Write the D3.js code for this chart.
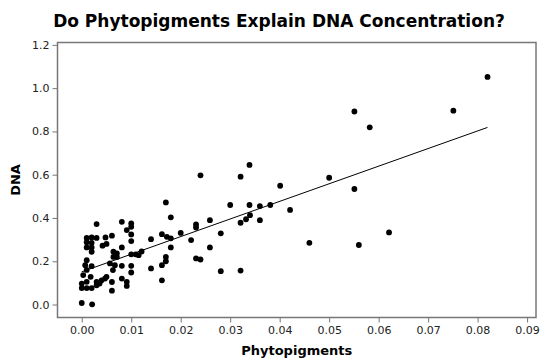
<!DOCTYPE html>
<html>
  <head>
    <script src="https://d3js.org/d3.v7.min.js"></script>
    <style>
      body { margin: 0; background: #fff; }
      text { font-family: "DejaVu Sans", Verdana, sans-serif; }
    </style>
  </head>
  <body>
    <div id="chart"></div>
    <script>
      // Phytopigments (x) and DNA (y)
      var phyto = [
        0.0000, 0.0021, 0.0000, 0.0000, 0.0010, 0.0020, 0.0010, 0.0018, 0.0010, 0.0003,
        0.0007, 0.0020, 0.0010, 0.0020, 0.0010, 0.0020, 0.0010, 0.0020, 0.0010, 0.0020,
        0.0030, 0.0030, 0.0030, 0.0036, 0.0040, 0.0047, 0.0030, 0.0042, 0.0050, 0.0061,
        0.0048, 0.0064, 0.0064, 0.0057, 0.0067, 0.0063, 0.0050, 0.0061, 0.0061, 0.0081,
        0.0091, 0.0091, 0.0081, 0.0100, 0.0100, 0.0091, 0.0100, 0.0100, 0.0081, 0.0071,
        0.0071, 0.0100, 0.0109, 0.0115, 0.0121, 0.0081, 0.0100, 0.0100, 0.0140, 0.0140,
        0.0162, 0.0172, 0.0180, 0.0162, 0.0170, 0.0170, 0.0180, 0.0162, 0.0170, 0.0180,
        0.0200, 0.0221, 0.0231, 0.0231, 0.0259, 0.0259, 0.0231, 0.0240, 0.0281, 0.0281,
        0.0321, 0.0240, 0.0321, 0.0339, 0.0300, 0.0339, 0.0321, 0.0332, 0.0340, 0.0360,
        0.0381, 0.0360, 0.0401, 0.0421, 0.0460, 0.0500, 0.0551, 0.0582, 0.0551, 0.0560,
        0.0621, 0.0751, 0.0820
      ];
      var dna = [
        0.007, 0.001, 0.097, 0.076, 0.076, 0.076, 0.105, 0.128, 0.160, 0.136,
        0.182, 0.177, 0.205, 0.244, 0.264, 0.264, 0.288, 0.285, 0.308, 0.310,
        0.308, 0.372, 0.089, 0.097, 0.112, 0.120, 0.105, 0.272, 0.280, 0.318,
        0.310, 0.244, 0.220, 0.190, 0.182, 0.159, 0.128, 0.104, 0.064, 0.120,
        0.105, 0.086, 0.382, 0.375, 0.359, 0.344, 0.324, 0.293, 0.264, 0.236,
        0.220, 0.232, 0.232, 0.228, 0.245, 0.179, 0.179, 0.148, 0.302, 0.167,
        0.325, 0.313, 0.306, 0.182, 0.200, 0.220, 0.264, 0.112, 0.472, 0.403,
        0.331, 0.298, 0.370, 0.356, 0.390, 0.264, 0.213, 0.208, 0.329, 0.154,
        0.157, 0.597, 0.591, 0.645, 0.460, 0.460, 0.378, 0.394, 0.413, 0.455,
        0.460, 0.390, 0.549, 0.437, 0.285, 0.586, 0.892, 0.819, 0.534, 0.275,
        0.333, 0.896, 1.052
      ];
      var xTicks = [0, 0.01, 0.02, 0.03, 0.04, 0.05, 0.06, 0.07, 0.08, 0.09];
      var yTicks = [0, 0.2, 0.4, 0.6, 0.8, 1.0, 1.2];

      var width = 542, height = 360;
      var plotL = 57.5, plotR = 536, plotT = 42.5, plotB = 317.5;

      var svg = d3.select("#chart").append("svg")
        .attr("width", width)
        .attr("height", height);

      var x = d3.scaleLinear().domain([-0.0049, 0.0918]).range([plotL, plotR]);
      var y = d3.scaleLinear().domain([-0.060, 1.211]).range([plotB, plotT]);

      // least squares fit
      var n = phyto.length;
      var mx = d3.mean(phyto), my = d3.mean(dna);
      var sxy = 0, sxx = 0;
      for (var i = 0; i < n; i++) {
        sxy += (phyto[i] - mx) * (dna[i] - my);
        sxx += (phyto[i] - mx) * (phyto[i] - mx);
      }
      var slope = sxy / sxx, icept = my - slope * mx;
      var x0 = d3.min(phyto), x1 = d3.max(phyto);

      svg.append("line")
        .attr("x1", x(x0)).attr("y1", y(icept + slope * x0))
        .attr("x2", x(x1)).attr("y2", y(icept + slope * x1))
        .attr("stroke", "#000")
        .attr("stroke-width", 1);

      svg.selectAll("circle")
        .data(d3.range(n))
        .enter()
        .append("circle")
        .attr("cx", function(i) { return x(phyto[i]); })
        .attr("cy", function(i) { return y(dna[i]); })
        .attr("r", 2.9)
        .attr("fill", "#000");

      // frame
      svg.append("rect")
        .attr("x", plotL).attr("y", plotT)
        .attr("width", plotR - plotL).attr("height", plotB - plotT)
        .attr("fill", "none")
        .attr("stroke", "#777")
        .attr("stroke-width", 1.5);

      var xAxis = svg.append("g")
        .attr("transform", "translate(0," + plotB + ")")
        .call(d3.axisBottom(x).tickValues(xTicks).tickSize(5).tickPadding(4)
          .tickFormat(d3.format(".2f")));
      var yAxis = svg.append("g")
        .attr("transform", "translate(" + plotL + ",0)")
        .call(d3.axisLeft(y).tickValues(yTicks).tickSize(5).tickPadding(3)
          .tickFormat(d3.format(".1f")));

      [xAxis, yAxis].forEach(function(g) {
        g.select(".domain").remove();
        g.selectAll(".tick line").attr("stroke", "#777").attr("stroke-width", 1);
        g.selectAll(".tick text")
          .attr("fill", "#222")
          .style("font-family", "'DejaVu Sans', Verdana, sans-serif")
          .style("font-size", "11px");
      });

      svg.append("text")
        .attr("x", 279).attr("y", 27)
        .attr("text-anchor", "middle")
        .style("font-size", "17px")
        .style("font-weight", "bold")
        .text("Do Phytopigments Explain DNA Concentration?");

      svg.append("text")
        .attr("x", (plotL + plotR) / 2).attr("y", 355)
        .attr("text-anchor", "middle")
        .style("font-size", "13px")
        .style("font-weight", "bold")
        .text("Phytopigments");

      svg.append("text")
        .attr("transform", "translate(19.5," + ((plotT + plotB) / 2) + ") rotate(-90)")
        .attr("text-anchor", "middle")
        .style("font-size", "13px")
        .style("font-weight", "bold")
        .text("DNA");
    </script>
  </body>
</html>
